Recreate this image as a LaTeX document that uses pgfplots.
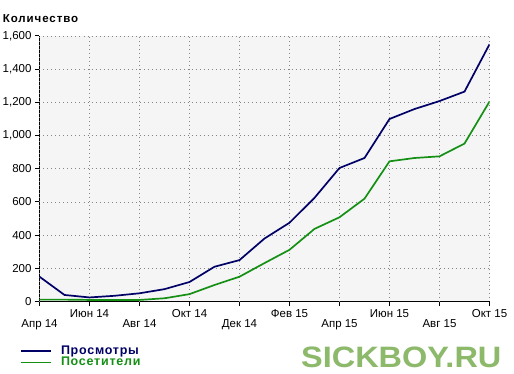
\documentclass[border=0pt]{standalone}
\usepackage{fontspec}
\setmainfont{Liberation Sans}
\newfontfamily\spaced[LetterSpace=8]{Liberation Sans}
\newfontfamily\spacedL[LetterSpace=6]{Liberation Sans}
\usepackage{pgfplots}
\pgfplotsset{compat=1.18}
\definecolor{navy}{HTML}{000066}
\definecolor{grn}{HTML}{159015}
\definecolor{wm}{HTML}{8DB96B}
\definecolor{bg}{HTML}{F5F5F5}
\begin{document}
\begin{tikzpicture}[x=1pt,y=1pt]
\useasboundingbox[fill=white] (0,0) rectangle (514,374);
\begin{axis}[
  at={(39.5pt,72.4pt)}, anchor=south west,
  scale only axis, width=450pt, height=265.6pt,
  xmin=0, xmax=18, ymin=0, ymax=1600,
  axis x line*=bottom, axis y line*=left,
  axis line style={line width=1.8pt, black},
  axis background/.style={fill=bg},
  grid=major,
  major grid style={gray!95, line width=0.9pt, dash pattern=on 0.9pt off 3.1pt},
  tick align=outside, major tick length=4.5pt,
  tick style={black, line width=1pt},
  ytick={0,200,...,1600},
  /pgf/number format/.cd, 1000 sep={,}, assume math mode=true,
  /pgfplots/.cd,
  tick label style={font=\fontsize{11.5}{13}\selectfont},
  xtick={2,6,10,14,18},
  xticklabels={Июн 14, Окт 14, Фев 15, Июн 15, Окт 15},
  extra x ticks={0,4,8,12,16},
  extra x tick labels={Апр 14, Авг 14, Дек 14, Апр 15, Авг 15},
  extra x tick style={grid=major, xticklabel style={yshift=-10pt}},
  legend style={at={(rel axis cs:-0.0433,-0.158)}, anchor=north west,
    draw=none, fill=none, inner sep=0pt, row sep=-2.5pt, column sep=7pt,
    font=\spacedL\bfseries\fontsize{12.5}{13}\selectfont,
    cells={anchor=west}},
  legend image code/.code={\draw[#1,line width=1.8pt] (0pt,0pt) -- (30pt,0pt);},
]
\addplot[navy, line width=1.7pt] coordinates {
 (0,150) (1,40) (2,25) (3,35) (4,50) (5,75) (6,118) (7,210) (8,250) (9,380)
 (10,475) (11,625) (12,805) (13,865) (14,1100) (15,1160) (16,1208) (17,1265) (18,1550)};
\addlegendentry{\textcolor{navy}{Просмотры}}
\addplot[grn, line width=1.7pt] coordinates {
 (0,12) (1,12) (2,10) (3,10) (4,10) (5,20) (6,45) (7,100) (8,150) (9,232)
 (10,312) (11,438) (12,508) (13,620) (14,845) (15,865) (16,875) (17,952) (18,1205)};
\addlegendentry{\textcolor{grn}{Посетители}}
\end{axis}
\node[anchor=base west, inner sep=0pt, font=\spaced\bfseries\fontsize{11.5}{13}\selectfont] at (2.7,351.3) {Количество};
\node[anchor=base west, inner sep=0pt, text=wm, font=\bfseries\fontsize{29.5}{30}\selectfont, xscale=1.1] at (301,6) {SICKBOY.RU};
\end{tikzpicture}
\end{document}
